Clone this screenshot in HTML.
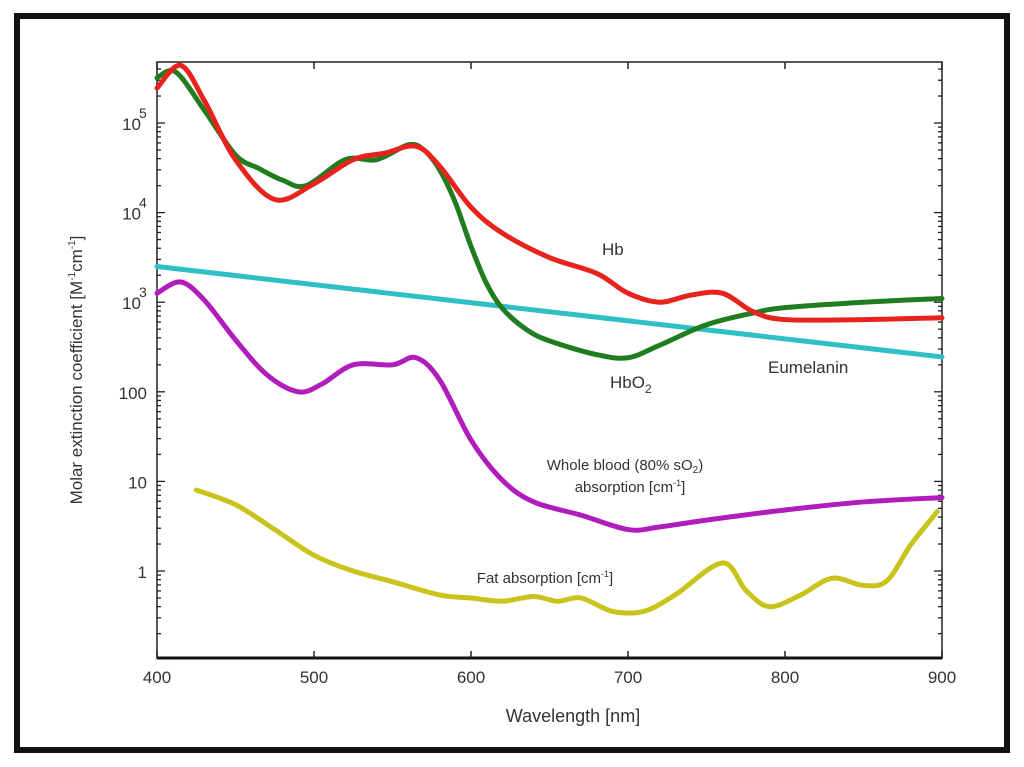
<!DOCTYPE html>
<html><head><meta charset="utf-8"><style>
html,body{margin:0;padding:0;background:#fff;}
svg{display:block;font-family:"Liberation Sans",sans-serif;}
</style></head><body>
<svg id="chart" width="1024" height="767" viewBox="0 0 1024 767">
<rect x="17" y="16" width="990" height="734" fill="#fff" stroke="#111" stroke-width="6"/>
<g id="axes"></g><g id="series"></g>
<g fill="#333" font-size="17">
<text x="602" y="255">Hb</text>
<text x="610" y="388">HbO<tspan font-size="12" dy="5">2</tspan></text>
<text x="768" y="373">Eumelanin</text>
<text x="625" y="470" font-size="15" text-anchor="middle">Whole blood (80% sO<tspan font-size="10" dy="3">2</tspan><tspan dy="-3">)</tspan></text>
<text x="630" y="492" font-size="15" text-anchor="middle">absorption [cm<tspan font-size="9" dy="-6">-1</tspan><tspan dy="6">]</tspan></text>
<text x="545" y="583" font-size="15" text-anchor="middle">Fat absorption [cm<tspan font-size="9" dy="-6">-1</tspan><tspan dy="6">]</tspan></text>
<text x="573" y="722" font-size="18" text-anchor="middle">Wavelength [nm]</text>
<text transform="translate(82,370) rotate(-90)" font-size="17" text-anchor="middle">Molar extinction coefficient  [M<tspan font-size="10" dy="-7">-1</tspan><tspan dy="7">cm</tspan><tspan font-size="10" dy="-7">-1</tspan><tspan dy="7">]</tspan></text>
</g>
</svg>
<script>
const xTicks=[400,500,600,700,800,900];
const yTickExp=[0,1,2,3,4,5];
const hbX=[400,415,430,450,475,500,525,545,565,580,600,620,650,680,700,720,740,760,780,800,850,900];
const hbY=[245000,440000,180000,39000,14000,21000,39000,46000,55000,33000,11500,5900,3150,2100,1260,1000,1200,1260,780,640,640,670];
const hbo2X=[400,412,430,450,465,480,495,520,540,560,570,580,590,600,610,620,635,650,680,700,720,750,780,800,850,900];
const hbo2Y=[320000,370000,140000,44000,31000,23000,20000,39000,39000,57000,50000,30000,13000,4200,1600,850,500,370,260,240,330,560,760,870,1000,1100];
const melX=[400,900];
const melY=[2500,245];
const bloodX=[400,415,430,450,470,490,505,525,550,565,580,600,620,640,670,700,720,750,800,850,900];
const bloodY=[1260,1680,1060,380,155,100,122,200,200,240,136,29,10.3,5.9,4.2,2.9,3.1,3.7,4.8,5.9,6.6];
const fatX=[425,450,475,500,525,550,580,600,620,640,655,670,690,710,730,760,775,790,810,830,850,865,880,897];
const fatY=[8,5.5,2.9,1.5,1.0,0.76,0.54,0.5,0.46,0.52,0.46,0.5,0.355,0.355,0.54,1.23,0.61,0.40,0.54,0.83,0.69,0.78,1.95,4.6];

const NS='http://www.w3.org/2000/svg';
const X0=157,X1=942,Y5=123,DEC=89.6,YB=658,YT=62;
function sx(w){return X0+(w-400)*(X1-X0)/500;}
function sy(v){return Y5+(5-Math.log10(v))*DEC;}
function mk(tag,attrs,parent){const e=document.createElementNS(NS,tag);for(const k in attrs)e.setAttribute(k,attrs[k]);parent.appendChild(e);return e;}
const ax=document.getElementById('axes');
const box=mk('rect',{x:X0,y:YT,width:X1-X0,height:YB-YT,fill:'none',stroke:'#222','stroke-width':1.5},ax);


const bl=mk('line',{x1:X0,y1:YB,x2:X1,y2:YB,stroke:'#111','stroke-width':3},ax);


xTicks.forEach(t=>{
 const x=sx(t);
 mk('line',{x1:x,y1:YB,x2:x,y2:YB-7,stroke:'#222','stroke-width':1.5},ax);
 mk('line',{x1:x,y1:YT,x2:x,y2:YT+7,stroke:'#222','stroke-width':1.5},ax);
 const tx=mk('text',{x:x,y:YB+25,'text-anchor':'middle','font-size':17,fill:'#333'},ax);
 tx.textContent=t;
 
 
});
for(let e=-1;e<=5;e++){
 for(let m=1;m<10;m++){
  const v=m*Math.pow(10,e);const y=sy(v);
  if(y<YT||y>YB)continue;
  const L=m==1?8:4;
  mk('line',{x1:X0,y1:y,x2:X0+L,y2:y,stroke:'#222','stroke-width':1.3},ax);
  mk('line',{x1:X1,y1:y,x2:X1-L,y2:y,stroke:'#222','stroke-width':1.3},ax);
 }
}
yTickExp.forEach(e=>{
 const y=sy(Math.pow(10,e));
 const t=mk('text',{x:X0-10,y:y+7,'text-anchor':'end','font-size':17,fill:'#333'},ax);
 
 
 if(e<=2){t.textContent=String(Math.pow(10,e));}
 else{t.textContent='10';const s=mk('tspan',{x:X0-10,dy:-12,'font-size':14,'text-anchor':'start'},t);s.textContent=String(e);
  t.setAttribute('x',X0-16);s.setAttribute('x',X0-18);s.setAttribute('dx','0');}
});
function path(xs,ys){
 const p=xs.map((x,i)=>[sx(x),sy(ys[i])]);
 if(p.length<3)return 'M'+p.map(q=>q.join(',')).join('L');
 let d='M'+p[0][0]+','+p[0][1];
 for(let i=0;i<p.length-1;i++){
  const a=p[i-1]||p[i],b=p[i],c=p[i+1],e=p[i+2]||c;
  d+='C'+(b[0]+(c[0]-a[0])/6)+','+(b[1]+(c[1]-a[1])/6)+' '+(c[0]-(e[0]-b[0])/6)+','+(c[1]-(e[1]-b[1])/6)+' '+c[0]+','+c[1];
 }
 return d;
}
const sg=document.getElementById('series');
function line(xs,ys,color,name,w){
 const e=mk('path',{d:path(xs,ys),fill:'none',stroke:color,'stroke-width':w||5,'stroke-linejoin':'round','stroke-linecap':'round'},sg);
 
 
}
line(melX,melY,'#2fc0c6','eumelanin-line');
line(fatX,fatY,'#c9c31c','fat-line');
line(bloodX,bloodY,'#b11cbc','whole-blood-line');
line(hbo2X,hbo2Y,'#1f7d1f','hbo2-line');
line(hbX,hbY,'#e8221c','hb-line');
</script>
</body></html>
